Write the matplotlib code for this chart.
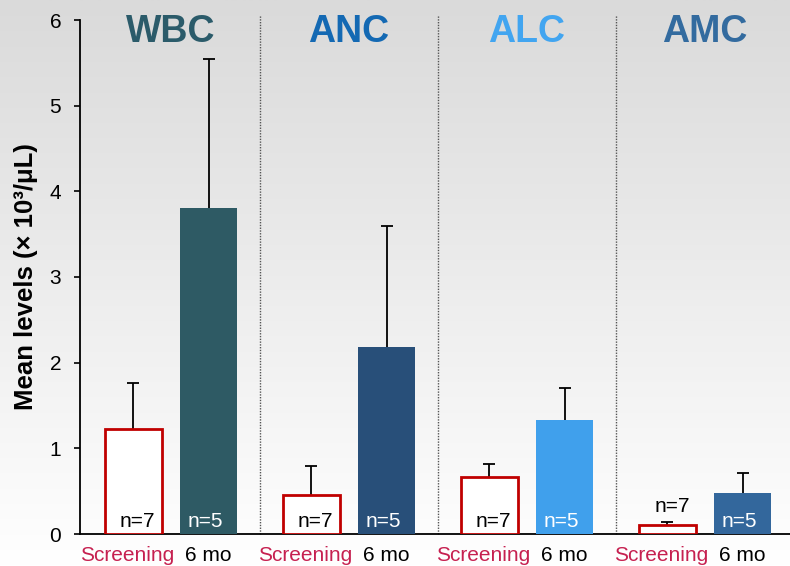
import numpy as np
import matplotlib
matplotlib.use("Agg")
import matplotlib.pyplot as plt

plt.rcParams['font.family'] = ['Liberation Sans', 'DejaVu Sans']

groups = ["WBC", "ANC", "ALC", "AMC"]
title_colors = ["#2b5b6a", "#1469b3", "#42a5f0", "#336b9f"]
bar_colors = ["#2e5a64", "#284f79", "#40a0ec", "#33679c"]
screen_vals = [1.23, 0.45, 0.66, 0.10]
screen_err = [0.53, 0.34, 0.16, 0.04]
mo6_vals = [3.80, 2.18, 1.33, 0.48]
mo6_err = [1.75, 1.42, 0.38, 0.23]
screen_n = ["n=7", "n=7", "n=7", "n=7"]
mo6_n = ["n=5", "n=5", "n=5", "n=5"]
cat_labels = ["Screening", "6 mo"]
yticks = [0, 1, 2, 3, 4, 5, 6]

fig = plt.figure(figsize=(7.9, 5.66), dpi=100)

# background gradient
bg = fig.add_axes([0, 0, 1, 1], zorder=-10)
grad = np.linspace(218, 255, 256).reshape(-1, 1) / 255.0
bg.imshow(np.dstack([grad, grad, grad]), aspect='auto', extent=[0, 1, 0, 1], origin='upper')
bg.axis('off')

ax = fig.add_axes([80/790, 32/566, 710/790, 514/566])
ax.set_facecolor('none')

x = np.arange(len(groups))
off = 0.212
w = 0.32

ax.bar(x - off, screen_vals, w, color='white', edgecolor='#c00000', linewidth=2, zorder=3)
ax.bar(x + off, mo6_vals, w, color=bar_colors, zorder=3)
for xs, vals, errs in [(x - off, screen_vals, screen_err), (x + off, mo6_vals, mo6_err)]:
    eb = ax.errorbar(xs, vals, yerr=[np.zeros(4), errs], fmt='none',
                     ecolor='black', elinewidth=1.3, capsize=4, capthick=1.3, zorder=2)
    caps = eb[1]
    if len(caps) == 2:
        caps[0].set_visible(False)

for i in range(len(groups)):
    ax.text(x[i], 5.743, groups[i], ha='center', va='baseline', fontsize=27,
            fontweight='bold', color=title_colors[i])
    if screen_vals[i] < 0.2:
        ax.text(x[i] - off + 0.03, 0.257, screen_n[i], ha='center', va='baseline',
                fontsize=15, color='black', zorder=5)
    else:
        ax.text(x[i] - off + 0.022, 0.08, screen_n[i], ha='center', va='baseline',
                fontsize=15, color='black', zorder=5)
    ax.text(x[i] + off - 0.02, 0.08, mo6_n[i], ha='center', va='baseline',
            fontsize=15, color='white', zorder=5)
    ax.text(x[i] - off - 0.034, -0.32, cat_labels[0], ha='center', va='baseline',
            fontsize=15, color='#c62050', clip_on=False)
    ax.text(x[i] + off, -0.32, cat_labels[1], ha='center', va='baseline',
            fontsize=15, color='black', clip_on=False)

for d in [0.5, 1.5, 2.5]:
    ax.plot([d, d], [0, 6.06], linestyle=(0, (1, 1)), color='#555555', linewidth=1,
            clip_on=False, zorder=1)

ax.set_xlim(-0.511, 3.478)
ax.set_ylim(0, 6)
ax.set_yticks(yticks)
ax.set_yticklabels([str(t) for t in yticks], fontsize=15)
ax.set_xticks([])
ax.tick_params(axis='y', direction='out', length=4.5, width=1.2, pad=9)
for s in ['top', 'right']:
    ax.spines[s].set_visible(False)
ax.spines['left'].set_linewidth(1.3)
ax.spines['bottom'].set_linewidth(1.3)
ax.set_ylabel("Mean levels (× 10³/μL)", fontsize=18.5, fontweight='bold', labelpad=8)

fig.savefig("out.png", dpi=100)
